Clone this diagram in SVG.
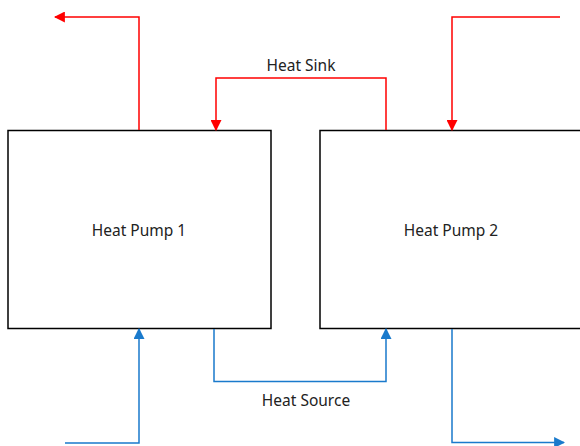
<svg xmlns="http://www.w3.org/2000/svg" width="580" height="446" viewBox="0 0 580 446">
<defs>
<style>
.box{fill:#fff;stroke:#000;stroke-width:1.5}
.lbl{font-family:"Noto Sans","Open Sans",sans-serif;font-size:15.5px;fill:#222;text-anchor:middle}
.red{fill:none;stroke:#ff0000;stroke-width:1.5}
.blue{fill:none;stroke:#1a7acc;stroke-width:1.5}
</style>
<marker id="ar" viewBox="0 0 10 10" refX="9" refY="5" markerWidth="11" markerHeight="11" markerUnits="userSpaceOnUse" orient="auto"><path d="M0,0L10,5L0,10z" fill="#ff0000"/></marker>
<marker id="ab" viewBox="0 0 10 10" refX="9" refY="5" markerWidth="11" markerHeight="11" markerUnits="userSpaceOnUse" orient="auto"><path d="M0,0L10,5L0,10z" fill="#1a7acc"/></marker>
</defs>
<rect width="580" height="446" fill="#fff"/>
<g id="hp1"><rect class="box" x="8" y="130.5" width="263" height="198"/><text class="lbl" x="139" y="236">Heat Pump 1</text></g>
<g id="hp2"><rect class="box" x="320" y="130.5" width="263" height="198"/><text class="lbl" x="451" y="236">Heat Pump 2</text></g>
<g id="connectors">
<path class="red" d="M139,130 V17 H55" marker-end="url(#ar)"/>
<path class="red" d="M386,130 V78 H216 V130" marker-end="url(#ar)"/>
<path class="red" d="M560,17 H452 V130" marker-end="url(#ar)"/>
<path class="blue" d="M65,443 H139 V329" marker-end="url(#ab)"/>
<path class="blue" d="M214,329 V381.5 H386 V329" marker-end="url(#ab)"/>
<path class="blue" d="M452,329 V442.5 H564" marker-end="url(#ab)"/>
<text class="lbl" x="301" y="71">Heat Sink</text>
<text class="lbl" x="306" y="406">Heat Source</text>
</g>
</svg>
